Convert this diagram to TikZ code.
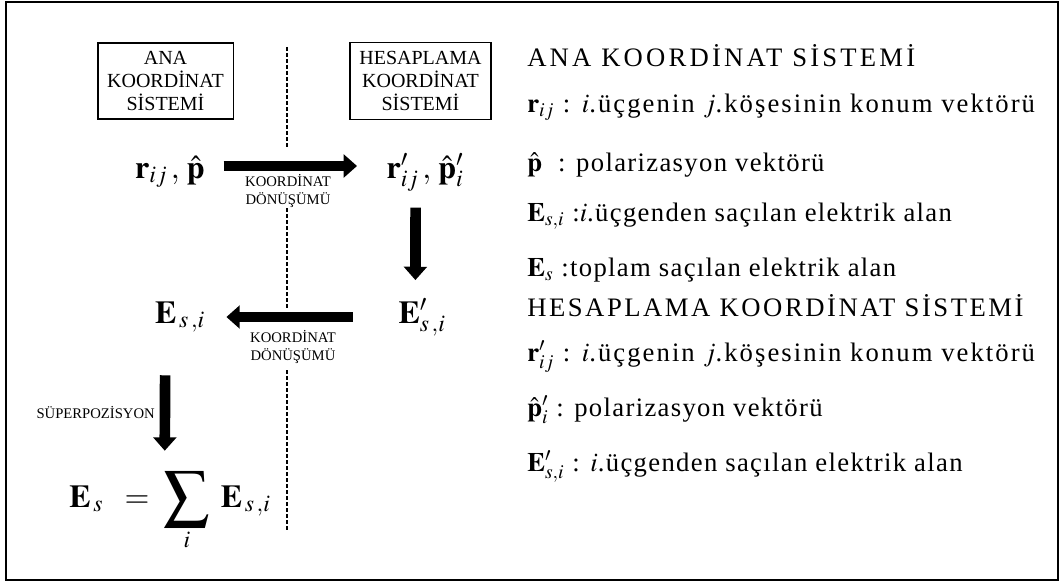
\documentclass[tikz,border=0pt]{standalone}
\usepackage{mathptmx}
\usepackage[no-math]{fontspec}
\setmainfont{Liberation Serif}
\usetikzlibrary{arrows.meta,positioning}

\tikzset{
  sysbox/.style={draw,line width=1pt,align=center,inner xsep=7pt,inner ysep=6pt,
                 font=\fontsize{15}{17.6}\selectfont},
  bigmath/.style={inner sep=2pt,font=\fontsize{24}{28}\selectfont},
  toprow/.style={text height=22pt,text depth=4pt},
  midrow/.style={text height=14pt,text depth=5pt},
  fatarrow/.style={line width=8pt,-{Triangle[width=17pt,length=10pt]}},
  steplbl/.style={align=center,inner sep=0pt,font=\fontsize{11}{13.5}\selectfont},
  legend/.style={anchor=base west,inner sep=0pt,
                 font=\fontsize{20}{24}\selectfont\addfontfeature{LetterSpace=5}},
  widelegend/.style={legend,font=\fontsize{20}{24}\selectfont\addfontfeature{LetterSpace=7.7}},
  heading/.style={legend,font=\fontsize{20}{24}\selectfont\addfontfeature{LetterSpace=12}},
  divider/.style={line width=1.2pt,dash pattern=on 3pt off 1.5pt},
}
\newcommand{\bigsum}{\mathop{\vcenter{\hbox{\fontsize{34}{38}\selectfont$\displaystyle\sum$}}}\limits}

\begin{document}
\begin{tikzpicture}[x=0.75pt,y=-0.75pt]
  \useasboundingbox (0,0) rectangle (1063,585);
  \draw[line width=1.5pt] (6,2) rectangle (1058,580);

  % the two coordinate systems
  \node[sysbox] (anaBox) at (165.5,81) {ANA\\KOORDİNAT\\SİSTEMİ};
  \node[sysbox] (hesBox) at (420.5,81) {HESAPLAMA\\KOORDİNAT\\SİSTEMİ};

  \draw[divider] (287,47) -- (287,148);
  \draw[divider] (287,208) -- (287,310);
  \draw[divider] (287,370) -- (287,530);

  \node[bigmath,toprow,anchor=base] (rAna) at (170,178) {$\mathbf{r}_{ij}\,,\,\hat{\mathbf{p}}$};
  \node[bigmath,toprow,anchor=base] (rHes) at (425,178) {$\mathbf{r}'_{ij}\,,\,\hat{\mathbf{p}}'_{i}$};
  \node[bigmath,midrow,anchor=base] (eHes) at (422,323) {$\mathbf{E}'_{s\,,i}$};
  \node[bigmath,midrow,anchor=base] (eAna) at (180,323) {$\mathbf{E}_{\,s\,,i}$};
  \node[bigmath,anchor=base] (eSum) at (170,507)
    {$\mathbf{E}_{\,s}\;\;=\;\bigsum_{i}\;\mathbf{E}_{\,s\,,i}$};

  \draw[fatarrow,shorten <=12pt,shorten >=20pt] (rAna.east) -- (rHes.west);
  \draw[fatarrow,shorten <=16pt,shorten >=16pt] ([xshift=-7pt]rHes.south) -- ([xshift=-5pt]eHes.north);
  \draw[fatarrow,shorten <=32pt,shorten >=14pt] (eHes.west) -- (eAna.east);
  \draw[fatarrow,shorten <=32pt,shorten >=13pt] ([xshift=-11pt]eAna.south) -- ([xshift=-4pt]eSum.north);

  \node[steplbl] (kd1) at (288,191) {KOORDİNAT\\DÖNÜŞÜMÜ};
  \node[steplbl] (kd2) at (293,347) {KOORDİNAT\\DÖNÜŞÜMÜ};
  \node[steplbl,anchor=east] (sup) at (155,413) {SÜPERPOZİSYON};

  % legend
  \node[heading] (h1) at (527,66) {ANA KOORDİNAT SİSTEMİ};
  \node[widelegend] (l1) at (527,113) {$\mathbf{r}_{ij}$ : $i$.üçgenin $j$.köşesinin konum vektörü};
  \node[legend] (l2) at (527,171) {$\hat{\mathbf{p}}$ \ : polarizasyon vektörü};
  \node[legend] (l3) at (527,221) {$\mathbf{E}_{s,i}$ :$i$.üçgenden saçılan elektrik alan};
  \node[legend] (l4) at (527,276) {$\mathbf{E}_{s}$ :toplam saçılan elektrik alan};
  \node[heading,font=\fontsize{20}{24}\selectfont\addfontfeature{LetterSpace=9.5}] (h2) at (527,316) {HESAPLAMA KOORDİNAT SİSTEMİ};
  \node[widelegend] (l5) at (527,361) {$\mathbf{r}'_{ij}$ : $i$.üçgenin $j$.köşesinin konum vektörü};
  \node[legend] (l6) at (527,416) {$\hat{\mathbf{p}}'_{i}$ : polarizasyon vektörü};
  \node[legend] (l7) at (527,471) {$\mathbf{E}'_{s,i}$ : $i$.üçgenden saçılan elektrik alan};
\end{tikzpicture}
\end{document}
